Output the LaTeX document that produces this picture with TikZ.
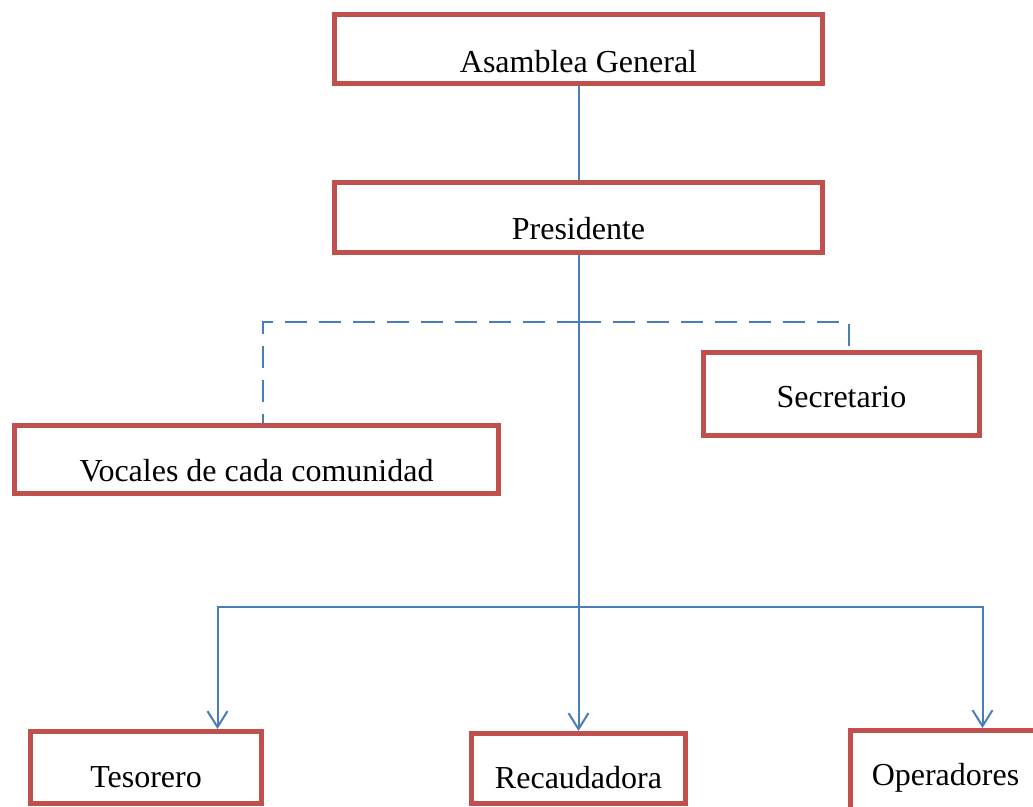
\documentclass[tikz,border=0pt]{standalone}
\usepackage{fontspec}
\setmainfont{Liberation Serif}
\usetikzlibrary{arrows.meta}

\definecolor{boxred}{HTML}{C0504D}
\definecolor{lineblue}{HTML}{4A7EBB}

\tikzset{
  cargo/.style={draw=boxred, line width=2.5pt, fill=white, inner sep=0pt,
    anchor=north west, font=\fontsize{16}{19}\selectfont},
  conn/.style={draw=lineblue, line width=1pt},
  flecha/.style={conn, -{Straight Barb[length=8pt,width=10pt]}},
  dashline/.style={conn, dash pattern=on 11pt off 6pt}
}

\begin{document}
\begin{tikzpicture}[x=0.5pt, y=-0.5pt]

\useasboundingbox (0,0) rectangle (1033,807);

% Top of the chart
\node[cargo, minimum width=244pt, text height=29pt, text depth=5.5pt] (asamblea) at (332,12) {Asamblea General};
\node[cargo, minimum width=244pt, text height=28.5pt, text depth=6.5pt] (presidente) at (332,180) {Presidente};

% Advisory level
\node[cargo, minimum width=138pt, text height=27.5pt, text depth=14pt] (secretario) at (701,350) {Secretario};
\node[cargo, minimum width=242pt, text height=28pt, text depth=6pt] (vocales) at (12,423) {Vocales de cada comunidad};

% Bottom row
\node[cargo, minimum width=115.5pt, text height=28pt, text depth=8pt] (tesorero) at (28,729) {Tesorero};
\node[cargo, minimum width=107pt, text height=27.5pt, text depth=7.5pt] (recaudadora) at (469,731) {Recaudadora};
\node[cargo, minimum width=95pt, text height=27.5pt, text depth=18pt] (operadores) at (848,728) {Operadores};

\coordinate (apoyo) at (presidente.south |- 0,322);
\coordinate (fork) at (presidente.south |- 0,607);

\draw[conn] (asamblea) -- (presidente);
\draw[flecha] (presidente.south) -- (recaudadora.north);

% Dashed links
\draw[dashline] (apoyo) -| ([xshift=3pt]vocales.north);
\draw[dashline] (apoyo) -| ([xshift=3.5pt]secretario.north);

% Branches to the bottom row
\draw[flecha] (fork) -| ([xshift=35.75pt]tesorero.north);
\draw[flecha] (fork) -| ([xshift=18.5pt]operadores.north);

\end{tikzpicture}
\end{document}
